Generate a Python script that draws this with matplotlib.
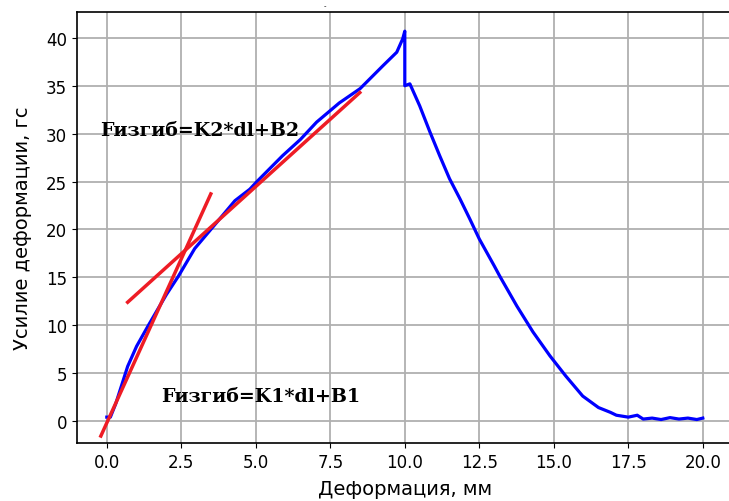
import numpy as np
import matplotlib
matplotlib.use("Agg")
import matplotlib.pyplot as plt

# measured curve: deformation [mm] vs force [gs]
dl = [0.0, 0.12, 0.3, 0.7, 1.0, 1.38, 1.68, 2.0, 2.4, 2.95, 3.6, 4.3, 4.8, 5.07,
      5.9, 6.5, 7.04, 7.8, 8.5, 9.27, 9.73, 9.93, 10.0, 10.0, 10.17, 10.5, 10.84,
      11.17, 11.5, 11.85, 12.18, 12.5, 13.0, 13.19, 13.76, 14.3, 14.87, 15.4,
      15.97, 16.5, 16.9, 17.1, 17.5, 17.8, 18.0, 18.3, 18.6, 18.9, 19.2, 19.5,
      19.8, 20.0]
force = [0.4, 0.4, 1.8, 5.7, 7.8, 9.9, 11.5, 13.2, 15.1, 18.0, 20.4, 23.0, 24.2, 25.1,
         27.7, 29.4, 31.2, 33.2, 34.7, 37.1, 38.5, 39.9, 40.7, 35.0, 35.2, 32.9, 30.2,
         27.7, 25.3, 23.2, 21.1, 19.0, 16.2, 15.1, 12.0, 9.3, 6.8, 4.7,
         2.6, 1.4, 0.9, 0.6, 0.4, 0.6, 0.2, 0.3, 0.15, 0.35, 0.2, 0.3,
         0.15, 0.3]

# linear fits
K1, B1 = 6.85, -0.2
fit1_x = [-0.2, 3.49]
K2, B2 = 2.81, 10.43
fit2_x = [0.7, 8.49]

fig = plt.figure(figsize=(7.29, 5.02), dpi=100)
ax = fig.add_axes([77/729, 58/502, 655.6/729, 431/502])

ax.plot(dl, force, c="blue", lw=2.3)
x1 = np.array(fit1_x)
x2 = np.array(fit2_x)
ax.plot(x1, K1*x1 + B1, c="#ee1c25", lw=2.5)
ax.plot(x2, K2*x2 + B2, c="#ee1c25", lw=2.5)

ax.text(-0.23, 29.9, "Fизгиб=K2*dl+B2", family="DejaVu Serif",
        fontweight="bold", fontsize=13.7)
ax.text(1.81, 2.1, "Fизгиб=K1*dl+B1", family="DejaVu Serif",
        fontweight="bold", fontsize=13.7)

ax.set_xlim(-1.0, 21.0)
ax.set_ylim(-2.3, 42.7)
ax.set_xticks(np.arange(0, 20.1, 2.5))
ax.set_yticks(np.arange(0, 41, 5))
ax.tick_params(labelsize=12)
ax.grid(True, color="#b0b0b0", lw=1.3)
ax.set_axisbelow(True)
ax.set_xlabel("Деформация, мм", fontsize=14, labelpad=6)
ax.set_ylabel("Усилие деформации, гс", fontsize=14, labelpad=10)
for s in ax.spines.values():
	s.set_linewidth(1.2)

fig.text(325/729, 1 - 6/502, "-", fontsize=5, ha="center", va="center")

fig.savefig("out.png", dpi=100)
